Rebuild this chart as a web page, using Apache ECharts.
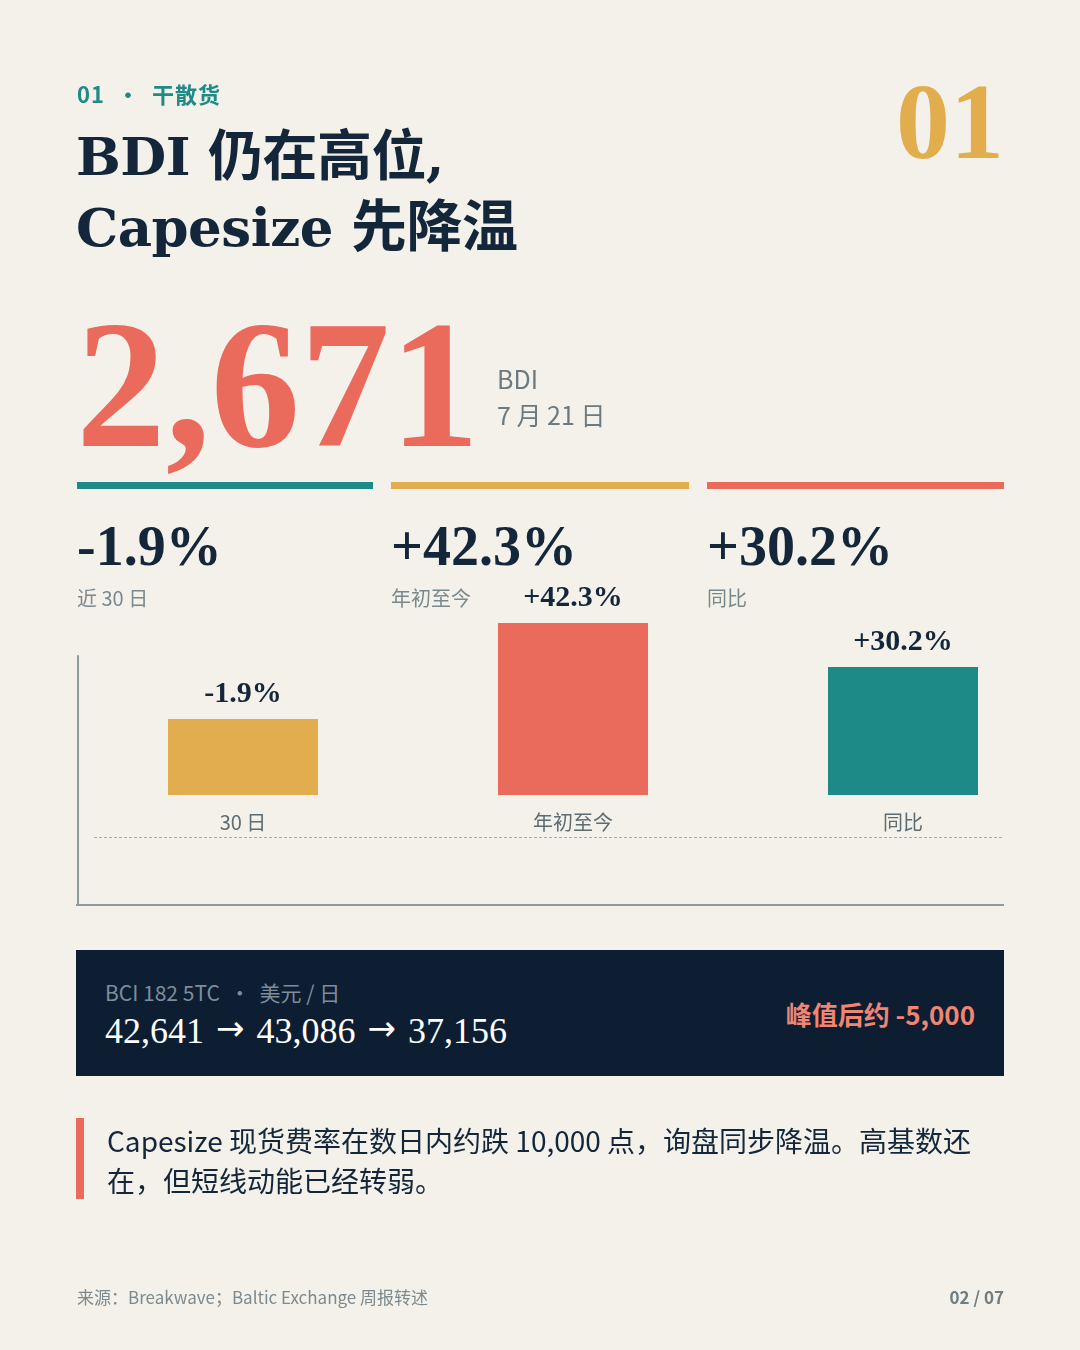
<!DOCTYPE html>
<html><head><meta charset="utf-8">
<script src="https://cdn.jsdelivr.net/npm/echarts@6/dist/echarts.min.js"></script>
<style>
html,body{margin:0;padding:0;background:#f4f1ea;}
#page{position:relative;width:1080px;height:1350px;overflow:hidden;background:#f4f1ea;}
#chart{position:absolute;left:0;top:0;width:1080px;height:1350px;}
.t{position:absolute;white-space:nowrap;pointer-events:none;}
.serif{font-family:"Liberation Serif","Noto Serif CJK SC","Noto Sans CJK SC",serif;}
.dserif{font-family:"DejaVu Serif","Noto Sans CJK SC",serif;}
.sans{font-family:"Noto Sans CJK SC","Noto Sans",sans-serif;}
.arr{font-family:"DejaVu Sans",sans-serif;font-size:34px;position:relative;top:-3px;margin:0 12px;}
</style></head>
<body><div id="page">
<div id="chart"></div>

<div class="t sans" style="left:77px;top:77px;font-size:22px;font-weight:700;color:#1f8a86;letter-spacing:1px;">01 &nbsp;·&nbsp; 干散货</div>
<div class="t dserif" style="left:76px;top:118px;font-size:53px;font-weight:700;color:#13263a;line-height:66px;letter-spacing:-0.5px;">BDI <span class="sans" style="font-size:55px;font-weight:700;">仍在高位</span>,<br>Capesize <span class="sans" style="font-size:56px;font-weight:700;">先降温</span></div>
<div class="t serif" style="right:76px;top:62px;font-size:108px;font-weight:700;color:#e2ad4c;line-height:120px;">01</div>

<div class="t serif" style="left:76px;top:280px;font-size:183px;font-weight:700;color:#ea6a5b;line-height:210px;transform:scaleX(0.98);transform-origin:left top;">2,671</div>
<div class="t sans" style="left:497px;top:360px;font-size:25px;color:#6a7a80;line-height:36px;">BDI<br>7 月 21 日</div>

<div class="t" style="left:77px;top:482px;width:296px;height:7px;background:#1e8a87;"></div>
<div class="t" style="left:391px;top:482px;width:298px;height:7px;background:#e2ad4e;"></div>
<div class="t" style="left:707px;top:482px;width:297px;height:7px;background:#ea6a5b;"></div>

<div class="t serif" style="left:77px;top:514px;font-size:56px;font-weight:700;color:#13263a;line-height:64px;">-1.9%</div>
<div class="t serif" style="left:391px;top:514px;font-size:56px;font-weight:700;color:#13263a;line-height:64px;">+42.3%</div>
<div class="t serif" style="left:707px;top:514px;font-size:56px;font-weight:700;color:#13263a;line-height:64px;">+30.2%</div>
<div class="t sans" style="left:77px;top:584px;font-size:20px;color:#7a898e;line-height:28px;">近 30 日</div>
<div class="t sans" style="left:391px;top:584px;font-size:20px;color:#7a898e;line-height:28px;">年初至今</div>
<div class="t sans" style="left:707px;top:584px;font-size:20px;color:#7a898e;line-height:28px;">同比</div>

<div class="t" style="left:76px;top:950px;width:928px;height:126px;background:#0d1e33;"></div>
<div class="t sans" style="left:105px;top:977px;font-size:21px;color:#7f8d99;line-height:30px;">BCI 182 5TC&nbsp; ·&nbsp; 美元 / 日</div>
<div class="t serif" style="left:105px;top:1010px;font-size:36px;color:#ffffff;line-height:42px;">42,641<span class="arr">→</span>43,086<span class="arr">→</span>37,156</div>
<div class="t sans" style="right:105px;top:997px;font-size:26px;font-weight:700;color:#f08572;line-height:34px;">峰值后约 -5,000</div>

<div class="t" style="left:76px;top:1118px;width:8px;height:81px;background:#ea6a5b;"></div>
<div class="t sans" style="left:107px;top:1120px;font-size:28px;color:#13263a;line-height:40px;">Capesize 现货费率在数日内约跌 10,000 点，询盘同步降温。高基数还<br>在，但短线动能已经转弱。</div>

<div class="t sans" style="left:77px;top:1284px;font-size:17px;color:#7c8a8f;line-height:26px;">来源：Breakwave；Baltic Exchange 周报转述</div>
<div class="t sans" style="right:76px;top:1284px;font-size:17px;font-weight:700;color:#6f7d82;line-height:26px;">02 / 07</div>
</div>
<script>
const categories = ['30 日', '年初至今', '同比'];
const changeValues = [-1.9, 42.3, 30.2];
const barHeights = [18.7, 42.3, 31.5];
const barColors = ['#e2ad4e', '#ea6a5b', '#1e8a87'];

function fmt(v){ return (v > 0 ? '+' : '') + v.toFixed(1) + '%'; }

const chart = echarts.init(document.getElementById('chart'), null, {renderer:'canvas'});
chart.setOption({
  backgroundColor: 'transparent',
  animation: false,
  grid: {left: 78, right: 12, top: 656, bottom: 445, containLabel: false},
  xAxis: {
    type: 'category', data: categories,
    axisLine: {show: false, onZero: false}, axisTick: {show: false},
    axisLabel: {margin: -93, fontSize: 20, color: '#5d6c72', fontFamily: 'Noto Sans CJK SC'}
  },
  yAxis: {
    type: 'value', min: -27.05, max: 34.18,
    axisLine: {show: true, lineStyle: {color: '#8c9c9c', width: 2}},
    axisLabel: {show: false}, axisTick: {show: false}, splitLine: {show: false}
  },
  graphic: [
    {type: 'line', shape: {x1: 94, y1: 837.5, x2: 1004, y2: 837.5}, style: {stroke: '#aaaaa2', lineWidth: 1, lineDash: [3, 2]}, silent: true},
    {type: 'line', shape: {x1: 76, y1: 905, x2: 1004, y2: 905}, style: {stroke: '#8c9c9c', lineWidth: 2}, silent: true}
  ],
  series: [{
    type: 'bar', barWidth: 150, clip: false,
    data: barHeights.map((h, i) => ({value: h, itemStyle: {color: barColors[i]}})),
    label: {
      show: true, position: 'top', distance: 10,
      formatter: p => fmt(changeValues[p.dataIndex]),
      fontFamily: 'Liberation Serif', fontWeight: 'bold', fontSize: 30, color: '#13263a'
    }
  }]
});
</script>
</body></html>
